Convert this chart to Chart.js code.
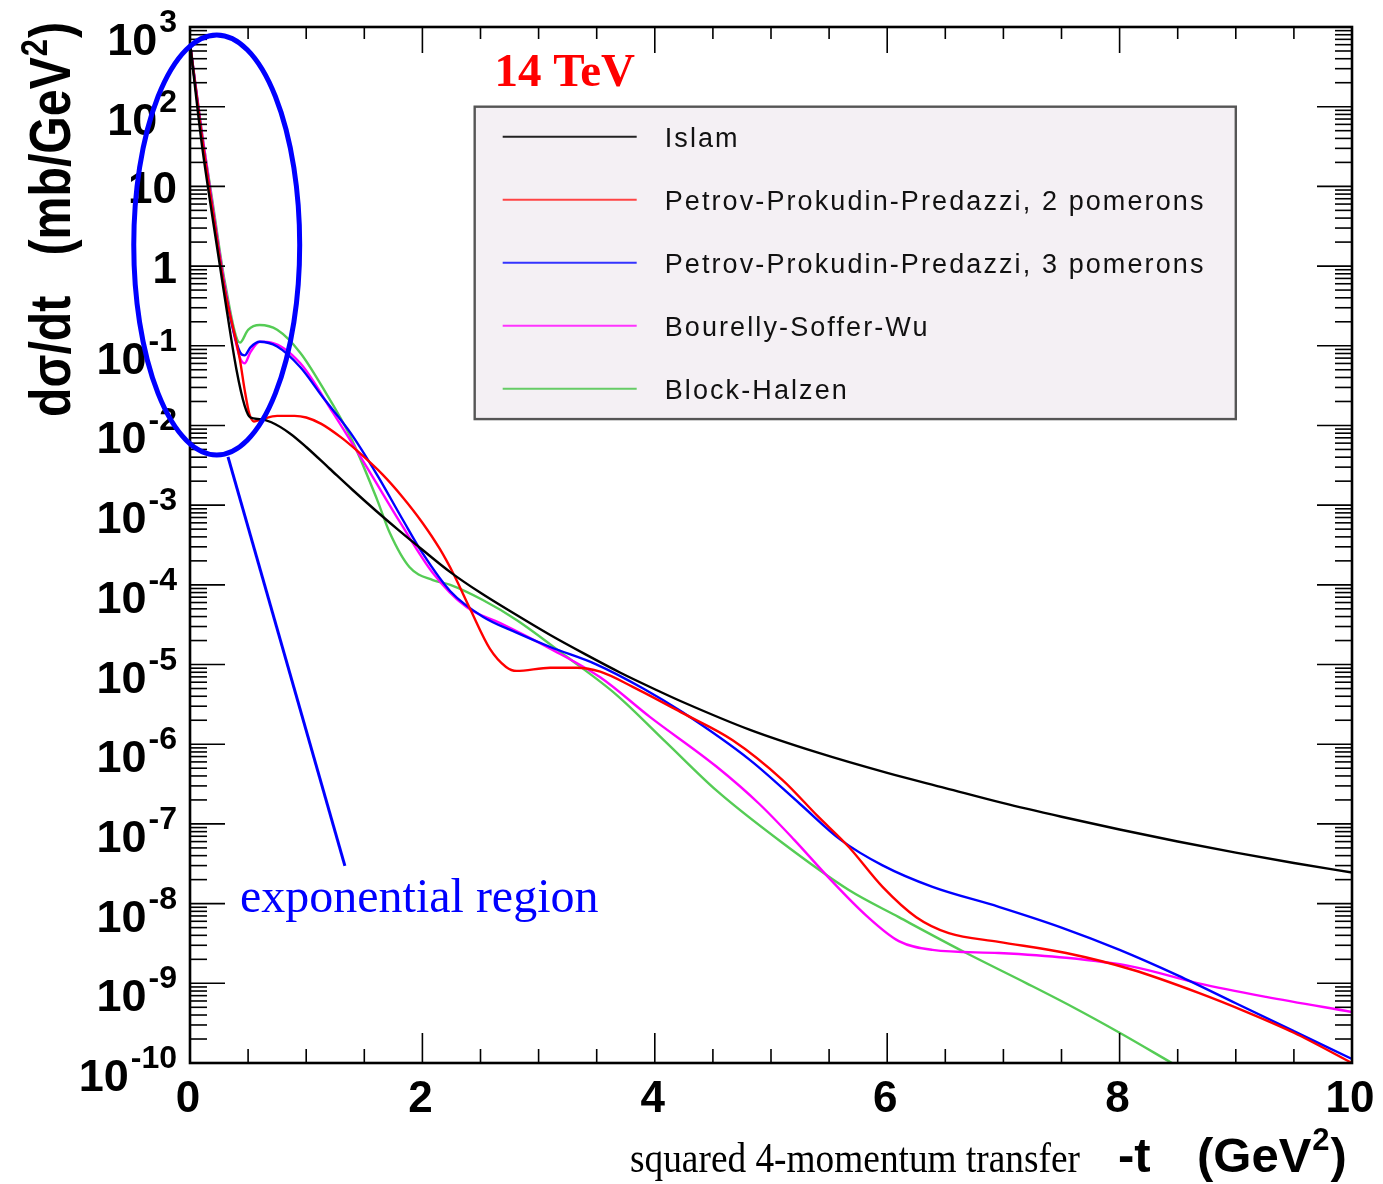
<!DOCTYPE html>
<html>
<head>
<meta charset="utf-8">
<title>d&sigma;/dt at 14 TeV</title>
<script src="https://cdn.jsdelivr.net/npm/chart.js@4.4.1/dist/chart.umd.min.js"></script>
<style>
  html, body { margin: 0; padding: 0; background: #fff; }
  #chart { display: block; }
</style>
</head>
<body>
<canvas id="chart" width="1383" height="1184"></canvas>
<script>
// -t (GeV^2) and log10(dsigma/dt in mb/GeV^2) per model
const islamT   = [0, 0.1, 0.2, 0.3, 0.4, 0.47, 0.52, 0.6, 0.7, 0.86, 1.0, 1.2, 1.4, 1.6, 1.8, 2.0, 2.24, 2.5, 2.8, 3.1, 3.4, 3.7, 4.0, 4.24, 4.82, 5.39, 6.0, 6.5, 7.0, 7.5, 8.0, 8.5, 9.0, 9.5, 10];
const islamLog = [2.8, 1.55, 0.55, -0.4, -1.3, -1.75, -1.9, -1.92, -1.96, -2.1, -2.27, -2.54, -2.81, -3.07, -3.32, -3.56, -3.84, -4.1, -4.37, -4.63, -4.87, -5.1, -5.31, -5.47, -5.82, -6.1, -6.36, -6.55, -6.74, -6.91, -7.07, -7.22, -7.36, -7.49, -7.61];

const ppp2T   = [0, 0.1, 0.2, 0.3, 0.43, 0.47, 0.51, 0.55, 0.62, 0.75, 0.9, 1.0, 1.13, 1.3, 1.44, 1.66, 1.83, 2.0, 2.15, 2.27, 2.41, 2.58, 2.72, 2.81, 3.1, 3.33, 3.53, 3.81, 4.24, 4.67, 5.1, 5.4, 5.67, 5.96, 6.25, 6.53, 6.96, 7.54, 8.11, 8.68, 9.11, 9.5, 10];
const ppp2Log = [2.8, 1.65, 0.65, -0.3, -1.18, -1.55, -1.85, -1.95, -1.92, -1.88, -1.88, -1.9, -1.98, -2.15, -2.32, -2.62, -2.9, -3.22, -3.55, -3.87, -4.3, -4.8, -5.03, -5.08, -5.04, -5.04, -5.09, -5.28, -5.61, -5.95, -6.45, -6.9, -7.29, -7.79, -8.17, -8.37, -8.48, -8.62, -8.83, -9.12, -9.37, -9.62, -10.0];

const ppp3T   = [0, 0.1, 0.2, 0.3, 0.43, 0.47, 0.52, 0.6, 0.75, 0.95, 1.14, 1.38, 1.61, 1.83, 2.0, 2.24, 2.52, 2.81, 3.1, 3.5, 3.9, 4.24, 4.82, 5.25, 5.6, 5.96, 6.39, 6.96, 7.5, 8.0, 8.5, 9.0, 9.5, 10];
const ppp3Log = [2.8, 1.65, 0.65, -0.3, -1.08, -1.12, -1.02, -0.95, -1.01, -1.27, -1.64, -2.09, -2.62, -3.18, -3.6, -4.08, -4.4, -4.6, -4.78, -5.0, -5.3, -5.6, -6.2, -6.75, -7.2, -7.52, -7.79, -8.04, -8.3, -8.58, -8.9, -9.25, -9.6, -9.95];

const bswT   = [0, 0.1, 0.2, 0.3, 0.43, 0.47, 0.52, 0.6, 0.7, 0.95, 1.23, 1.52, 1.81, 2.09, 2.38, 2.67, 3.1, 3.53, 3.96, 4.53, 4.9, 5.2, 5.5, 5.82, 6.1, 6.39, 6.96, 7.54, 8.11, 8.68, 9.26, 10];
const bswLog = [2.8, 1.7, 0.7, -0.25, -1.15, -1.22, -1.08, -0.95, -0.96, -1.22, -1.84, -2.52, -3.22, -3.85, -4.28, -4.48, -4.8, -5.16, -5.66, -6.28, -6.75, -7.2, -7.68, -8.15, -8.47, -8.58, -8.62, -8.68, -8.79, -9.0, -9.17, -9.36];

const bhT   = [0, 0.1, 0.2, 0.3, 0.43, 0.5, 0.6, 0.75, 0.95, 1.14, 1.38, 1.61, 1.72, 1.89, 2.09, 2.24, 2.52, 2.81, 3.24, 3.67, 4.1, 4.53, 5.1, 5.67, 6.1, 6.68, 7.2, 7.6, 8.0, 8.45];
const bhLog = [2.8, 1.7, 0.75, -0.2, -0.96, -0.8, -0.74, -0.8, -1.09, -1.52, -2.14, -2.93, -3.35, -3.78, -3.94, -4.0, -4.19, -4.44, -4.9, -5.38, -5.98, -6.58, -7.24, -7.83, -8.17, -8.62, -9.0, -9.3, -9.62, -10.0];

const seriesLabels = ['Islam', 'Petrov-Prokudin-Predazzi, 2 pomerons', 'Petrov-Prokudin-Predazzi, 3 pomerons', 'Bourelly-Soffer-Wu', 'Block-Halzen'];
const seriesColors = ['#000000', '#ff0000', '#0000ff', '#ff00ff', '#55cc55'];
const legendColors = ['#222222', '#ff4444', '#3333ff', '#ff33ff', '#66cc66'];

const xMajorTicks = [0, 2, 4, 6, 8, 10];
const yExponents = [3, 2, 1, 0, -1, -2, -3, -4, -5, -6, -7, -8, -9, -10];

const SANS = '"Liberation Sans", Arial, Helvetica, sans-serif';
const SERIF = '"Liberation Serif", "Times New Roman", Times, serif';

function toPoints(ts, logs) {
  return ts.map((t, i) => ({ x: t, y: Math.pow(10, logs[i]) }));
}

const seriesData = [
  toPoints(islamT, islamLog),
  toPoints(ppp2T, ppp2Log),
  toPoints(ppp3T, ppp3Log),
  toPoints(bswT, bswLog),
  toPoints(bhT, bhLog)
];

// frame with inward ticks on all four sides, like the ROOT original
const rootFrame = {
  id: 'rootFrame',
  afterDatasetsDraw(chart) {
    const { ctx, chartArea: a, scales: { x, y } } = chart;
    ctx.save();
    ctx.strokeStyle = '#000';
    ctx.lineWidth = 1.6;
    const seg = (x1, y1, x2, y2) => {
      ctx.beginPath(); ctx.moveTo(x1, y1); ctx.lineTo(x2, y2); ctx.stroke();
    };

    for (let k = 0; k <= 20; k++) {
      const v = k * 0.5;
      const px = x.getPixelForValue(v);
      const major = k % 4 === 0;
      seg(px, a.bottom, px, a.bottom - (major ? 30 : 14));
      seg(px, a.top, px, a.top + (major ? 26 : 12));
    }

    yExponents.forEach(e => {
      for (let m = 1; m <= 9; m++) {
        if (e === 3 && m > 1) break;
        const py = y.getPixelForValue(m * Math.pow(10, e));
        const len = m === 1 ? 35 : 17;
        seg(a.left, py, a.left + len, py);
        seg(a.right, py, a.right - len, py);
      }
    });

    ctx.lineWidth = 2.6;
    ctx.strokeRect(a.left, a.top, a.right - a.left, a.bottom - a.top);

    // tick labels
    ctx.fillStyle = '#000';
    ctx.textBaseline = 'alphabetic';
    ctx.textAlign = 'center';
    ctx.font = 'bold 44px ' + SANS;
    xMajorTicks.forEach(v => {
      ctx.fillText(String(v), x.getPixelForValue(v) - 2, a.bottom + 49);
    });

    ctx.textAlign = 'left';
    const rightEdge = a.left - 13;
    yExponents.forEach(e => {
      const py = y.getPixelForValue(Math.pow(10, e));
      if (e === 0 || e === 1) {
        ctx.font = 'bold 44px ' + SANS;
        const s = e === 0 ? '1' : '10';
        const w = ctx.measureText(s).width;
        ctx.fillText(s, rightEdge - w, py + 17);
      } else {
        ctx.font = 'bold 32px ' + SANS;
        const sup = String(e);
        const ws = ctx.measureText(sup).width;
        ctx.font = 'bold 45px ' + SANS;
        const wb = ctx.measureText('10').width;
        const x0 = rightEdge - ws - wb - 2;
        ctx.fillText('10', x0, py + 28);
        ctx.font = 'bold 32px ' + SANS;
        ctx.fillText(sup, x0 + wb + 2, py + 5);
      }
    });
    ctx.restore();
  }
};

// legend box, energy label, callout ellipse and axis titles
const overlays = {
  id: 'overlays',
  afterDatasetsDraw(chart) {
    const { ctx, scales: { x, y } } = chart;
    ctx.save();

    // legend
    const lx1 = x.getPixelForValue(2.45), lx2 = x.getPixelForValue(9.0);
    const ly1 = y.getPixelForValue(100), ly2 = y.getPixelForValue(Math.pow(10, -1.92));
    ctx.fillStyle = '#f4f0f4';
    ctx.fillRect(lx1, ly1, lx2 - lx1, ly2 - ly1);
    ctx.strokeStyle = '#555';
    ctx.lineWidth = 2.4;
    ctx.strokeRect(lx1, ly1, lx2 - lx1, ly2 - ly1);
    ctx.font = '27px ' + SANS;
    ctx.textBaseline = 'alphabetic';
    ctx.textAlign = 'left';
    if ('letterSpacing' in ctx) ctx.letterSpacing = '2.1px';
    chart.data.datasets.forEach((ds, i) => {
      const ry = ly1 + 30 + 63 * i;
      ctx.strokeStyle = legendColors[i];
      ctx.lineWidth = 2;
      ctx.beginPath(); ctx.moveTo(lx1 + 28, ry); ctx.lineTo(lx1 + 162, ry); ctx.stroke();
      ctx.fillStyle = '#111';
      ctx.fillText(ds.label, lx1 + 190, ry + 10);
    });
    if ('letterSpacing' in ctx) ctx.letterSpacing = '0px';

    // energy
    ctx.fillStyle = '#ff0000';
    ctx.font = 'bold 47px ' + SERIF;
    ctx.fillText('14 TeV', x.getPixelForValue(2.62), y.getPixelForValue(Math.pow(10, 2.26)));

    // exponential region callout
    const cx = x.getPixelForValue(0.23), cy = y.getPixelForValue(Math.pow(10, 0.265));
    const rx = x.getPixelForValue(0.944) - x.getPixelForValue(0.23);
    const ry = y.getPixelForValue(Math.pow(10, -2.37)) - cy;
    ctx.strokeStyle = '#0000ff';
    ctx.lineWidth = 5;
    ctx.beginPath();
    ctx.ellipse(cx, cy, rx, ry, 0, 0, Math.PI * 2);
    ctx.stroke();
    ctx.lineWidth = 3;
    ctx.beginPath();
    ctx.moveTo(x.getPixelForValue(0.327), y.getPixelForValue(Math.pow(10, -2.395)));
    ctx.lineTo(x.getPixelForValue(1.333), y.getPixelForValue(Math.pow(10, -7.527)));
    ctx.stroke();
    ctx.fillStyle = '#0000ff';
    ctx.font = '48px ' + SERIF;
    ctx.fillText('exponential region', x.getPixelForValue(0.43), y.getPixelForValue(Math.pow(10, -8.1)));

    // x axis title
    ctx.fillStyle = '#000';
    ctx.font = '38px ' + SERIF;
    const xt = 'squared 4-momentum transfer';
    const xtw = ctx.measureText(xt).width;
    ctx.save();
    ctx.translate(630, 1172);
    ctx.scale(450 / xtw, 1.1);
    ctx.fillText(xt, 0, 0);
    ctx.restore();
    ctx.font = 'bold 49px ' + SANS;
    ctx.fillText('-t', 1118, 1172);
    let px = 1197;
    ctx.fillText('(GeV', px, 1172);
    px += ctx.measureText('(GeV').width + 1;
    ctx.font = 'bold 31px ' + SANS;
    ctx.fillText('2', px, 1150);
    px += ctx.measureText('2').width + 1;
    ctx.font = 'bold 49px ' + SANS;
    ctx.fillText(')', px, 1172);

    // y axis title, rotated
    ctx.save();
    ctx.translate(70, 417);
    ctx.rotate(-Math.PI / 2);
    const big = 'bold 50px ' + SANS, small = 'bold 32px ' + SANS;
    const p1 = 'd\u03c3/dt   (mb/GeV', p2 = '2', p3 = ')';
    ctx.font = big; const w1 = ctx.measureText(p1).width, w3 = ctx.measureText(p3).width;
    ctx.font = small; const w2 = ctx.measureText(p2).width;
    ctx.scale(395 / (w1 + w2 + w3 + 2), 1.15);
    ctx.font = big; ctx.fillText(p1, 0, 0);
    ctx.font = small; ctx.fillText(p2, w1 + 1, -20);
    ctx.font = big; ctx.fillText(p3, w1 + w2 + 2, 0);
    ctx.restore();

    ctx.restore();
  }
};

const ctx = document.getElementById('chart');

new Chart(ctx, {
  type: 'line',
  data: {
    datasets: seriesData.map((pts, i) => ({
      label: seriesLabels[i],
      data: pts,
      borderColor: seriesColors[i],
      borderWidth: 2.4,
      pointRadius: 0,
      fill: false,
      cubicInterpolationMode: 'monotone'
    }))
  },
  options: {
    responsive: false,
    animation: false,
    devicePixelRatio: 1,
    layout: { padding: { left: 190, right: 31, top: 27, bottom: 121 } },
    scales: {
      x: { type: 'linear', min: 0, max: 10, display: false },
      y: { type: 'logarithmic', min: 1e-10, max: 1e3, display: false }
    },
    plugins: {
      legend: { display: false },
      tooltip: { enabled: false }
    }
  },
  plugins: [rootFrame, overlays]
});
</script>
</body>
</html>
